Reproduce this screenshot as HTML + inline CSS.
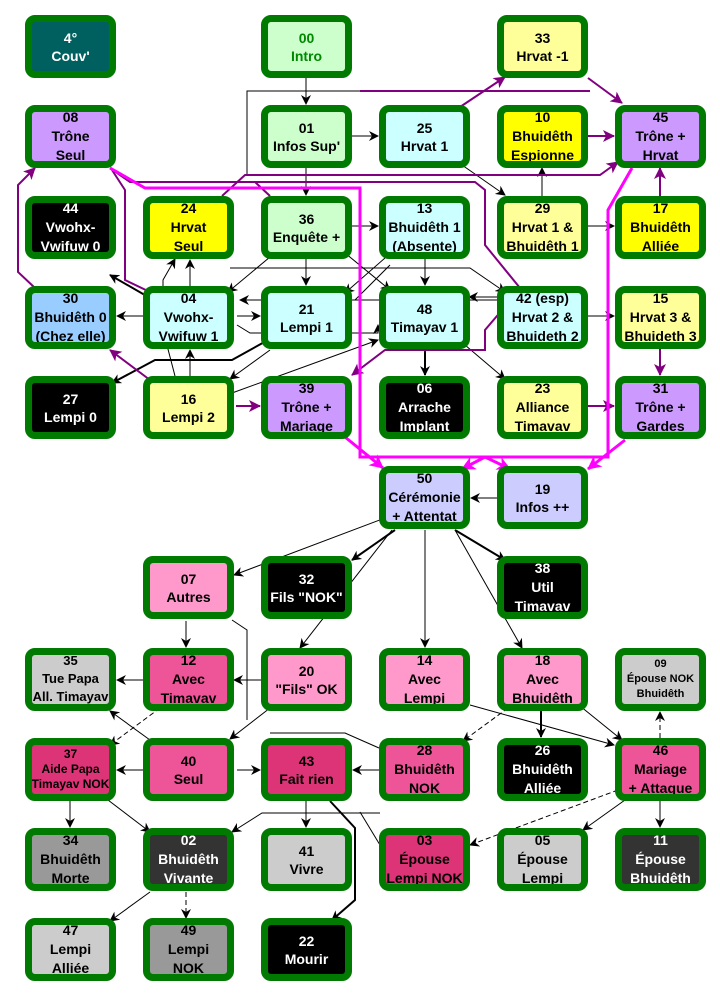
<!DOCTYPE html>
<html><head><meta charset="utf-8"><style>
body{margin:0;background:#fff;width:720px;height:1000px;position:relative;overflow:hidden;font-family:"Liberation Sans",sans-serif}
.b{position:absolute;width:77px;height:49px;border:7px solid #007a00;border-radius:10px;overflow:hidden;display:flex;align-items:center;justify-content:center;text-align:center;font-weight:bold;font-size:14px;line-height:18px;color:#000;box-sizing:content-box}
.b.t3{align-items:flex-start;line-height:19px}
.b.t3>div{margin-top:-4px}
.b>div{white-space:nowrap}
.w{color:#fff}
svg{position:absolute;left:0;top:0}
</style></head><body>
<svg width="720" height="1000">
<defs>
<marker id="k" markerWidth="10" markerHeight="10" refX="9" refY="5" orient="auto" markerUnits="userSpaceOnUse"><path d="M0,0 L10,5 L0,10 L3,5z" fill="#000"/></marker>
<marker id="p" markerWidth="12" markerHeight="12" refX="11" refY="6" orient="auto" markerUnits="userSpaceOnUse"><path d="M0,0 L12,6 L0,12 L3,6z" fill="#800080"/></marker>
<marker id="m" markerWidth="14" markerHeight="14" refX="13" refY="7" orient="auto" markerUnits="userSpaceOnUse"><path d="M0,0 L14,7 L0,14 L4,7z" fill="#ff00ff"/></marker>
</defs>
<g fill="none" stroke="#000" stroke-width="1">
<path d="M306,78 V104" marker-end="url(#k)"/>
<path d="M247,175 V91 H360"/>
<path d="M352,136 H378" marker-end="url(#k)"/>
<path d="M306,167 V195" marker-end="url(#k)"/>
<path d="M462,165 L505,195" marker-end="url(#k)"/>
<path d="M542,196 V168" marker-end="url(#k)"/>
<path d="M588,226 H614" marker-end="url(#k)"/>
<path d="M352,226 H378" marker-end="url(#k)"/>
<path d="M270,257 L228,292" marker-end="url(#k)"/>
<path d="M306,259 V285" marker-end="url(#k)"/>
<path d="M345,253 L390,290" marker-end="url(#k)"/>
<path d="M385,258 L345,293" marker-end="url(#k)"/>
<path d="M390,265 L355,300" />
<path d="M425,259 V285" marker-end="url(#k)"/>
<path d="M230,268 H470 L505,292" marker-end="url(#k)"/>
<path d="M497,300 H240" marker-end="url(#k)"/>
<path d="M497,297 H469" marker-end="url(#k)"/>
<path d="M588,316 H614" marker-end="url(#k)"/>
<path d="M143,316 H117" marker-end="url(#k)"/>
<path d="M237,316 H260" marker-end="url(#k)"/>
<path d="M190,286 V260" marker-end="url(#k)"/>
<path d="M237,325 L250,333 H378 V325" marker-end="url(#k)"/>
<path d="M270,350 L230,379" marker-end="url(#k)"/>
<path d="M190,376 V350" marker-end="url(#k)"/>
<path d="M175,376 L163,330 V280 L175,259" marker-end="url(#k)"/>
<path d="M232,393 L378,340" marker-end="url(#k)"/>
<path d="M465,345 L505,379" marker-end="url(#k)"/>
<path d="M497,498 H471" marker-end="url(#k)"/>
<path d="M385,518 L234,575" marker-end="url(#k)"/>
<path d="M392,530 L300,648" marker-end="url(#k)"/>
<path d="M425,530 V647" marker-end="url(#k)"/>
<path d="M455,530 L522,648" marker-end="url(#k)"/>
<path d="M186,621 V647" marker-end="url(#k)"/>
<path d="M232,620 L247,630 V720"/>
<path d="M261,680 H234" marker-end="url(#k)"/>
<path d="M143,680 H117" marker-end="url(#k)"/>
<path d="M160,708 L110,745" stroke-dasharray="5,3" marker-end="url(#k)"/>
<path d="M270,708 L230,739" marker-end="url(#k)"/>
<path d="M150,740 L110,711" marker-end="url(#k)"/>
<path d="M143,770 H117" marker-end="url(#k)"/>
<path d="M237,770 H260" marker-end="url(#k)"/>
<path d="M379,770 H353" marker-end="url(#k)"/>
<path d="M270,733 H345 L379,748"/>
<path d="M470,705 L614,745" marker-end="url(#k)"/>
<path d="M580,706 L622,740" marker-end="url(#k)"/>
<path d="M508,708 L463,741" stroke-dasharray="5,3" marker-end="url(#k)"/>
<path d="M660,738 V712" stroke-dasharray="5,3" marker-end="url(#k)"/>
<path d="M660,801 V827" marker-end="url(#k)"/>
<path d="M625,800 L583,830" marker-end="url(#k)"/>
<path d="M618,790 L470,845" stroke-dasharray="5,3" marker-end="url(#k)"/>
<path d="M70,801 V827" marker-end="url(#k)"/>
<path d="M108,800 L150,832" marker-end="url(#k)"/>
<path d="M306,801 V827" marker-end="url(#k)"/>
<path d="M380,813 H262 L232,832" marker-end="url(#k)"/>
<path d="M380,845 L360,812" />
<path d="M150,892 L110,921" marker-end="url(#k)"/>
<path d="M186,892 V918" stroke-dasharray="5,3" marker-end="url(#k)"/>
</g>
<g fill="none" stroke="#000" stroke-width="2">
<path d="M150,298 L110,275" marker-end="url(#k)"/>
<path d="M268,340 L232,360 H155 L112,383" marker-end="url(#k)"/>
<path d="M425,349 V375" marker-end="url(#k)"/>
<path d="M395,530 L352,560" marker-end="url(#k)"/>
<path d="M455,530 L505,560" marker-end="url(#k)"/>
<path d="M541,711 V737" marker-end="url(#k)"/>
<path d="M330,801 L355,828 V900 L332,920" marker-end="url(#k)"/>
</g>
<g fill="none" stroke="#800080" stroke-width="2">
<path d="M460,107 L505,77" marker-end="url(#p)"/>
<path d="M588,78 L622,103" marker-end="url(#p)"/>
<path d="M360,91 H590"/>
<path d="M588,136 H614" marker-end="url(#p)"/>
<path d="M222,196 L245,175 H600 L618,162" marker-end="url(#p)"/>
<path d="M660,196 V168" marker-end="url(#p)"/>
<path d="M660,349 V375" marker-end="url(#p)"/>
<path d="M236,406 H260" marker-end="url(#p)"/>
<path d="M588,406 H614" marker-end="url(#p)"/>
<path d="M35,288 L18,272 V185 L35,168" marker-end="url(#p)"/>
<path d="M520,288 L485,245 V190 L475,182 H130 L110,168"/>
<path d="M270,196 L255,182"/>
<path d="M150,292 L125,280 V190 L112,170" />
<path d="M150,380 L110,350" marker-end="url(#p)"/>
<path d="M520,289 L485,330 V350 H385 L352,375" marker-end="url(#p)"/>
</g>
<g fill="none" stroke="#ff00ff" stroke-width="3">
<path d="M110,168 L145,188 H360 V457 H608 V210 L632,168"/>
<path d="M345,437 L383,468" marker-end="url(#m)"/>
<path d="M485,457 L462,469" marker-end="url(#m)"/>
<path d="M485,457 L510,469" marker-end="url(#m)"/>
<path d="M625,440 L588,469" marker-end="url(#m)"/>
</g>
</svg>

<div class="b w" style="left:25px;top:15px;background:#006060"><div>4°<br>Couv'</div></div>
<div class="b" style="left:261px;top:15px;background:#ccffcc;color:#008800"><div>00<br>Intro</div></div>
<div class="b" style="left:497px;top:15px;background:#ffff99"><div>33<br>Hrvat -1</div></div>

<div class="b t3" style="left:25px;top:105px;background:#cc99ff"><div>08<br>Trône<br>Seul</div></div>
<div class="b" style="left:261px;top:105px;background:#ccffcc"><div>01<br>Infos Sup'</div></div>
<div class="b" style="left:379px;top:105px;background:#ccffff"><div>25<br>Hrvat 1</div></div>
<div class="b t3" style="left:497px;top:105px;background:#ffff00"><div>10<br>Bhuidêth<br>Espionne</div></div>
<div class="b t3" style="left:615px;top:105px;background:#cc99ff"><div>45<br>Trône +<br>Hrvat</div></div>

<div class="b t3 w" style="left:25px;top:196px;background:#000"><div>44<br>Vwohx-<br>Vwifuw 0</div></div>
<div class="b t3" style="left:143px;top:196px;background:#ffff00"><div>24<br>Hrvat<br>Seul</div></div>
<div class="b" style="left:261px;top:196px;background:#ccffcc"><div>36<br>Enquête +</div></div>
<div class="b t3" style="left:379px;top:196px;background:#ccffff"><div>13<br>Bhuidêth 1<br>(Absente)</div></div>
<div class="b t3" style="left:497px;top:196px;background:#ffff99"><div>29<br>Hrvat 1 &amp;<br>Bhuidêth 1</div></div>
<div class="b t3" style="left:615px;top:196px;background:#ffff00"><div>17<br>Bhuidêth<br>Alliée</div></div>

<div class="b t3" style="left:25px;top:286px;background:#99ccff"><div>30<br>Bhuidêth 0<br>(Chez elle)</div></div>
<div class="b t3" style="left:143px;top:286px;background:#ccffff"><div>04<br>Vwohx-<br>Vwifuw 1</div></div>
<div class="b" style="left:261px;top:286px;background:#ccffff"><div>21<br>Lempi 1</div></div>
<div class="b" style="left:379px;top:286px;background:#ccffff"><div>48<br>Timayav 1</div></div>
<div class="b t3" style="left:497px;top:286px;background:#ccffff"><div>42 (esp)<br>Hrvat 2 &amp;<br>Bhuideth 2</div></div>
<div class="b t3" style="left:615px;top:286px;background:#ffff99"><div>15<br>Hrvat 3 &amp;<br>Bhuideth 3</div></div>

<div class="b w" style="left:25px;top:376px;background:#000"><div>27<br>Lempi 0</div></div>
<div class="b" style="left:143px;top:376px;background:#ffff99"><div>16<br>Lempi 2</div></div>
<div class="b t3" style="left:261px;top:376px;background:#cc99ff"><div>39<br>Trône +<br>Mariage</div></div>
<div class="b t3 w" style="left:379px;top:376px;background:#000"><div>06<br>Arrache<br>Implant</div></div>
<div class="b t3" style="left:497px;top:376px;background:#ffff99"><div>23<br>Alliance<br>Timavav</div></div>
<div class="b t3" style="left:615px;top:376px;background:#cc99ff"><div>31<br>Trône +<br>Gardes</div></div>

<div class="b t3" style="left:379px;top:466px;background:#ccccff"><div>50<br>Cérémonie<br>+ Attentat</div></div>
<div class="b" style="left:497px;top:466px;background:#ccccff"><div>19<br>Infos ++</div></div>

<div class="b" style="left:143px;top:556px;background:#ff99cc"><div>07<br>Autres</div></div>
<div class="b w" style="left:261px;top:556px;background:#000"><div>32<br>Fils "NOK"</div></div>
<div class="b t3 w" style="left:497px;top:556px;background:#000"><div>38<br>Util<br>Timavav</div></div>

<div class="b t3" style="left:25px;top:648px;background:#cccccc;font-size:13px;line-height:18px"><div style="margin-top:-3px">35<br>Tue Papa<br>All. Timayav</div></div>
<div class="b t3" style="left:143px;top:648px;background:#ee5599"><div>12<br>Avec<br>Timavav</div></div>
<div class="b" style="left:261px;top:648px;background:#ff99cc"><div>20<br>"Fils" OK</div></div>
<div class="b t3" style="left:379px;top:648px;background:#ff99cc"><div>14<br>Avec<br>Lempi</div></div>
<div class="b t3" style="left:497px;top:648px;background:#ff99cc"><div>18<br>Avec<br>Bhuidêth</div></div>
<div class="b" style="left:615px;top:648px;background:#cccccc;font-size:11px;line-height:15px"><div>09<br>Épouse NOK<br>Bhuidêth</div></div>

<div class="b" style="left:25px;top:738px;background:#dd3377;font-size:12px;line-height:15px"><div>37<br>Aide Papa<br>Timayav NOK</div></div>
<div class="b" style="left:143px;top:738px;background:#ee5599"><div>40<br>Seul</div></div>
<div class="b" style="left:261px;top:738px;background:#dd3377"><div>43<br>Fait rien</div></div>
<div class="b t3" style="left:379px;top:738px;background:#ee5599"><div>28<br>Bhuidêth<br>NOK</div></div>
<div class="b t3 w" style="left:497px;top:738px;background:#000"><div>26<br>Bhuidêth<br>Alliée</div></div>
<div class="b t3" style="left:615px;top:738px;background:#ee5599"><div>46<br>Mariage<br>+ Attaque</div></div>

<div class="b t3" style="left:25px;top:828px;background:#999999"><div>34<br>Bhuidêth<br>Morte</div></div>
<div class="b t3 w" style="left:143px;top:828px;background:#333333"><div>02<br>Bhuidêth<br>Vivante</div></div>
<div class="b" style="left:261px;top:828px;background:#cccccc"><div>41<br>Vivre</div></div>
<div class="b t3" style="left:379px;top:828px;background:#dd3377"><div>03<br>Épouse<br>Lempi NOK</div></div>
<div class="b t3" style="left:497px;top:828px;background:#cccccc"><div>05<br>Épouse<br>Lempi</div></div>
<div class="b t3 w" style="left:615px;top:828px;background:#333333"><div>11<br>Épouse<br>Bhuidêth</div></div>

<div class="b t3" style="left:25px;top:918px;background:#cccccc"><div>47<br>Lempi<br>Alliée</div></div>
<div class="b t3" style="left:143px;top:918px;background:#999999"><div>49<br>Lempi<br>NOK</div></div>
<div class="b w" style="left:261px;top:918px;background:#000"><div>22<br>Mourir</div></div>
</body></html>
